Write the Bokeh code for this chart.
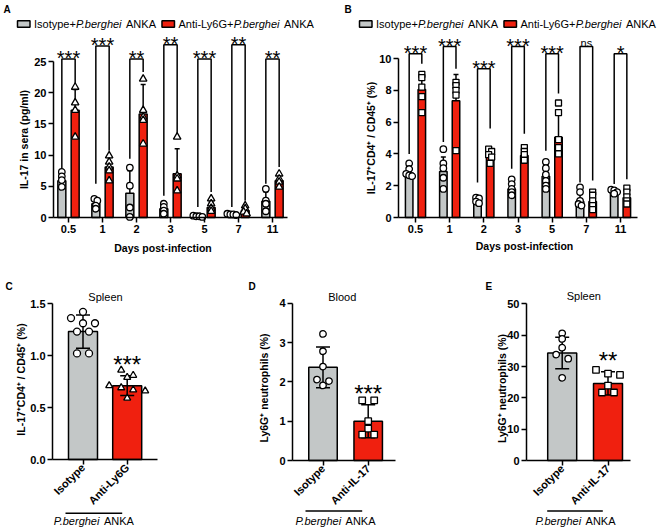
import math
from bokeh.plotting import figure
from bokeh.layouts import column, row
from bokeh.models import Label, FixedTicker, Range1d, PrintfTickFormatter
from bokeh.embed import file_html
from bokeh.resources import INLINE

FONT = "Liberation Sans"
GREY = "#C3C7C7"
RED = "#F0200F"

# ---------------- data ----------------
days = ["0.5", "1", "2", "3", "5", "7", "11"]

# Panel A: IL-17 in sera (pg/ml)
a_iso_mean = [5.9, 2.2, 3.9, 1.4, 0.2, 0.5, 2.6]
a_iso_sd = [1.0, 0.8, 3.6, 0.7, 0.1, 0.1, 1.5]
a_anti_mean = [17.2, 8.1, 16.6, 7.0, 1.6, 1.1, 5.9]
a_anti_sd = [3.3, 1.5, 4.7, 4.0, 0.9, 0.5, 0.9]
a_iso_pts = [[7.3, 6.6, 6.0, 4.9], [3.0, 2.7, 1.9, 1.4], [8.0, 5.1, 1.6, 0.1],
             [2.2, 1.7, 1.1, 0.6], [0.3, 0.2, 0.2, 0.1], [0.6, 0.5, 0.5, 0.4],
             [4.6, 2.7, 2.2, 1.0]]
a_anti_pts = [[20.9, 18.4, 17.2, 12.9], [9.9, 8.9, 8.1, 7.5, 5.9],
              [22.2, 17.2, 16.1, 15.6, 11.8], [12.9, 6.7, 6.2, 4.3],
              [3.0, 2.2, 1.5, 1.0], [1.9, 1.4, 0.9, 0.6], [7.0, 6.2, 5.7, 4.9]]
a_sig = ["***", "***", "**", "**", "***", "**", "**"]
a_sig_top = [25.4, 27.5, 25.4, 27.7, 25.4, 27.7, 25.4]
a_sig_left = [7.9, 5.4, 9.4, 3.5, 1.7, 1.7, 5.4]
a_sig_right = [21.4, 10.7, 23.3, 13.4, 4.1, 2.7, 8.1]
a_yticks = [0, 5, 10, 15, 20, 25]

# Panel B: IL-17+CD4+ / CD45+ (%)
b_iso_mean = [2.8, 2.9, 1.1, 1.8, 2.6, 1.0, 1.55]
b_iso_sd = [0.35, 0.9, 0.15, 0.45, 0.7, 0.5, 0.15]
b_anti_mean = [8.05, 7.35, 3.85, 3.9, 5.05, 1.0, 1.25]
b_anti_sd = [0.9, 1.65, 0.35, 0.3, 1.4, 0.45, 0.4]
b_iso_pts = [[3.4, 3.05, 2.75, 2.65, 2.6], [4.3, 3.4, 3.1, 2.5, 1.8],
             [1.25, 1.2, 1.0, 0.9], [2.4, 2.1, 1.8, 1.6, 1.4],
             [3.5, 3.1, 2.7, 2.3, 2.0, 1.8], [1.9, 1.6, 1.05, 0.85, 0.75],
             [1.75, 1.7, 1.6, 1.5]]
b_anti_pts = [[9.0, 8.8, 8.2, 7.6, 6.6], [8.5, 8.3, 8.0, 7.7, 4.2],
              [4.3, 4.15, 3.95, 3.8, 3.4], [4.4, 4.15, 3.95, 3.6],
              [7.2, 6.6, 4.9, 4.4, 4.0], [1.6, 1.4, 1.05, 0.75, 0.5],
              [1.85, 1.6, 1.3, 1.05, 0.85]]
b_sig = ["***", "***", "***", "***", "***", "ns", "*"]
b_sig_top = [10.3, 10.75, 9.35, 10.75, 10.3, 10.75, 10.3]
b_sig_left = [4.0, 4.75, 2.2, 3.06, 4.2, 2.2, 2.1]
b_sig_right = [9.67, 9.35, 5.6, 5.26, 7.8, 2.33, 2.4]
b_yticks = [0, 2, 4, 6, 8, 10]

# Panel C: Spleen IL-17+CD4+/CD45+ (%)
c_groups = ["Isotype", "Anti-Ly6G"]
c_mean = [1.23, 0.71]
c_sd = [0.16, 0.095]
c_iso_pts = [1.42, 1.36, 1.31, 1.31, 1.23, 1.23, 1.02, 1.02]
c_anti_pts = [0.86, 0.81, 0.79, 0.71, 0.69, 0.67, 0.66, 0.59]
c_sig = "***"
c_yticks = [0, 0.5, 1.0, 1.5]

# Panel D: Blood Ly6G+ neutrophils (%)
d_groups = ["Isotype", "Anti-IL-17"]
d_mean = [2.37, 1.0]
d_sd = [0.52, 0.42]
d_iso_pts = [3.22, 2.78, 2.39, 2.06, 2.02, 1.91]
d_anti_pts = [1.53, 1.53, 1.0, 0.81, 0.66, 0.66]
d_sig = "***"
d_yticks = [0, 1, 2, 3, 4]

# Panel E: Spleen Ly6G+ neutrophils (%)
e_groups = ["Isotype", "Anti-IL-17"]
e_mean = [34.3, 24.6]
e_sd = [5.0, 3.7]
e_iso_pts = [40.6, 38.8, 36.0, 33.8, 32.5, 26.4]
e_anti_pts = [28.9, 27.7, 27.3, 23.9, 21.7, 21.7]
e_sig = "**"
e_yticks = [0, 10, 20, 30, 40, 50]

# ---------------- helpers ----------------
W = {' ': 278, '+': 584, '-': 333, '.': 278, 'A': 667, 'K': 667, 'N': 722,
     'P': 667, 'L': 556, 'G': 778, 'I': 278, 'y': 500, 'a': 556, 'b': 556,
     'e': 556, 'g': 556, 'h': 556, 'i': 222, 'n': 556, 'o': 556, 'p': 556,
     'r': 333, 's': 500, 't': 278}


def tw(s, size):
    return sum(W.get(c, 556) for c in s) * size / 1000.0


class Map:
    """page-pixel -> data converter for one panel (axes at fl..fr, y=0 at fb)"""
    def __init__(self, fl, fr, xl, xr, fb, ppy):
        self.fl, self.fr, self.xl, self.xr, self.fb, self.ppy = fl, fr, xl, xr, fb, ppy

    def x(self, px):
        return self.xl + (px - self.fl) * (self.xr - self.xl) / (self.fr - self.fl)

    def y(self, py):
        return (self.fb - py) / self.ppy

    def dx(self, d):
        return d * (self.xr - self.xl) / (self.fr - self.fl)

    def dy(self, d):
        return d / self.ppy


def make_panel(x0, y0, w, h, m):
    p = figure(width=w, height=h,
               x_range=Range1d(m.x(x0), m.x(x0 + w)),
               y_range=Range1d(m.y(y0 + h), m.y(y0)),
               output_backend="svg", toolbar_location=None, min_border=0)
    p.outline_line_color = None
    p.grid.visible = False
    p.background_fill_color = "white"
    p.border_fill_color = "white"
    return p


def style_axes(p, m, yticks, ybounds, xlabels, orient=None, fmt=None):
    for ax in (p.xaxis[0], p.yaxis[0]):
        ax.axis_line_width = 1.5
        ax.axis_line_color = "black"
        ax.major_tick_line_width = 1.5
        ax.major_tick_line_color = "black"
        ax.major_tick_out = 5
        ax.major_tick_in = 0
        ax.minor_tick_line_color = None
        ax.major_label_text_font = FONT
        ax.major_label_text_font_style = "bold"
        ax.major_label_text_font_size = "11px"
        ax.major_label_text_color = "black"
        ax.major_label_standoff = 2
    p.yaxis.fixed_location = m.x(m.fl)
    p.xaxis.fixed_location = 0
    p.yaxis.ticker = FixedTicker(ticks=yticks)
    p.yaxis.bounds = ybounds
    p.xaxis.bounds = (m.x(m.fl), m.x(m.fr))
    if fmt:
        p.yaxis.formatter = PrintfTickFormatter(format=fmt)
    p.xaxis.ticker = FixedTicker(ticks=list(range(len(xlabels))))
    p.xaxis.major_label_overrides = {i: s for i, s in enumerate(xlabels)}
    if orient is not None:
        p.xaxis.major_label_orientation = orient
        p.xaxis.major_label_standoff = 1
        p.xaxis.major_label_text_font_size = "11px"


def label(p, m, x_px, y_px, text, size="11px", style="normal", align="left",
          baseline="middle", angle=0.0):
    p.add_layout(Label(x=m.x(x_px), y=m.y(y_px), text=text, text_font=FONT,
                       text_font_size=size, text_font_style=style,
                       text_align=align, text_baseline=baseline, angle=angle,
                       text_color="black"))


def rich(p, m, x_px, y_px, parts, size=11, center=False):
    total = sum(tw(t, size) for t, _ in parts)
    x = x_px - total / 2 if center else x_px
    for t, st in parts:
        s = t.strip()
        if s:
            lead = len(t) - len(t.lstrip(' '))
            label(p, m, x + tw(' ' * lead, size), y_px, s, f"{size}px", st)
        x += tw(t, size)
    return x


def swarm(values, center, m, dmin_px, step_px):
    order = sorted(range(len(values)), key=lambda i: -values[i])
    xs = [center] * len(values)
    clusters = []
    for i in order:
        if clusters and abs(values[clusters[-1][0]] - values[i]) * m.ppy < dmin_px:
            clusters[-1].append(i)
        else:
            clusters.append([i])
    for cl in clusters:
        n = len(cl)
        for k, i in enumerate(cl):
            xs[i] = center + m.dx((k - (n - 1) / 2) * step_px)
    return xs


def legend(p, m, x_px, y_px):
    bw, bh = 12.5, 6.5
    x = x_px
    for color, parts in ((GREY, [("Isotype+", "normal"), ("P.berghei", "italic"), (" ANKA", "normal")]),
                         (RED, [("Anti-Ly6G+", "normal"), ("P.berghei", "italic"), (" ANKA", "normal")])):
        p.quad(left=[m.x(x)], right=[m.x(x + bw)], top=[m.y(y_px - bh / 2)],
               bottom=[m.y(y_px + bh / 2)], fill_color=color, line_color="black",
               line_width=1.5)
        x = rich(p, m, x + bw + 4, y_px, parts, 11) + 6


def grouped_panel(p, m, means_i, sds_i, means_a, sds_a, pts_i, pts_a,
                  off, bw, cap_px, tops, lefts, rights, sigs, msize):
    n = len(means_i)
    xi = [k - off for k in range(n)]
    xa = [k + off for k in range(n)]
    for xs, mean, col in ((xi, means_i, GREY), (xa, means_a, RED)):
        p.vbar(x=xs, top=mean, bottom=0, width=bw, fill_color=col,
               line_color="black", line_width=1.5)
    cap = m.dx(cap_px)
    for xs, mean, sd in ((xi, means_i, sds_i), (xa, means_a, sds_a)):
        up = [a + b for a, b in zip(mean, sd)]
        p.segment(x0=xs, y0=mean, x1=xs, y1=up, line_color="black", line_width=1.5)
        p.segment(x0=[v - cap for v in xs], y0=up, x1=[v + cap for v in xs], y1=up,
                  line_color="black", line_width=1.5)
    for xs, pts, marker, sz in ((xi, pts_i, "circle", msize[0]), (xa, pts_a, msize[2], msize[1])):
        px, py = [], []
        for c, vals in zip(xs, pts):
            px += swarm(vals, c, m, 3, 3)
            py += vals
        p.scatter(x=px, y=py, marker=marker, size=sz, fill_color="white",
                  line_color="black", line_width=1.3)
    p.multi_line(xs=[[a, a, b, b] for a, b in zip(xi, xa)],
                 ys=[[l, t, t, r] for l, t, r in zip(lefts, tops, rights)],
                 line_color="black", line_width=1.5)
    for k in range(n):
        if sigs[k] == "ns":
            p.add_layout(Label(x=k, y=tops[k] + m.dy(3.5), text="ns", text_font=FONT,
                               text_font_size="11px", text_align="center",
                               text_baseline="alphabetic", text_color="black"))
        else:
            p.add_layout(Label(x=k, y=tops[k] + m.dy(1.0), text=sigs[k], text_font=FONT,
                               text_font_size="20px", text_align="center",
                               text_baseline="alphabetic", text_color="black"))


def simple_panel(p, m, means, sds, pts_i, pts_a, marker_a, bw, sig, msz):
    xs = [0, 1]
    p.vbar(x=xs, top=means, bottom=0, width=bw, fill_color=[GREY, RED],
           line_color="black", line_width=1.5)
    lo = [a - b for a, b in zip(means, sds)]
    hi = [a + b for a, b in zip(means, sds)]
    cap = m.dx(7)
    p.segment(x0=xs, y0=lo, x1=xs, y1=hi, line_color="black", line_width=1.5)
    for yy in (lo, hi):
        p.segment(x0=[v - cap for v in xs], y0=yy, x1=[v + cap for v in xs], y1=yy,
                  line_color="black", line_width=1.5)
    p.scatter(x=swarm(pts_i, 0, m, 5.5, 12), y=pts_i, marker="circle", size=msz,
              fill_color="white", line_color="black", line_width=1.3)
    p.scatter(x=swarm(pts_a, 1, m, 5.5, 12), y=pts_a, marker=marker_a, size=msz,
              fill_color="white", line_color="black", line_width=1.3)
    p.add_layout(Label(x=1, y=hi[1] + m.dy(11), text=sig, text_font=FONT,
                       text_font_size="24px", text_align="center",
                       text_baseline="alphabetic", text_color="black"))


def caption(p, m, lx0, lx1, ly, cx, cy):
    p.segment(x0=[m.x(lx0)], y0=[m.y(ly)], x1=[m.x(lx1)], y1=[m.y(ly)],
              line_color="black", line_width=1.5)
    rich(p, m, cx, cy, [("P.berghei", "italic"), (" ANKA", "normal")], 11, center=True)


# ---------------- Panel A ----------------
mA = Map(53, 287, (53 - 68) / 34.0, (287 - 68) / 34.0, 217, 6.24)
pA = make_panel(0, 0, 330, 268, mA)
style_axes(pA, mA, a_yticks, (0, 25), days)
grouped_panel(pA, mA, a_iso_mean, a_iso_sd, a_anti_mean, a_anti_sd, a_iso_pts, a_anti_pts,
              0.196, 0.235, 2.5, a_sig_top, a_sig_left, a_sig_right, a_sig,
              (6.5, 7.5, "triangle"))
label(pA, mA, 3, 8.5, "A", "10px", "bold")
legend(pA, mA, 17, 23.5)
label(pA, mA, 23, 139, "IL-17 in sera (pg/ml)", "10.5px", "bold", "center", "middle", math.pi / 2)
label(pA, mA, 162.5, 247, "Days post-infection", "10.5px", "bold", "center", "middle")

# ---------------- Panel B ----------------
mB = Map(398, 637, (398 - 415) / 34.17, (637 - 415) / 34.17, 217, 15.9)
pB = make_panel(330, 0, 330, 268, mB)
style_axes(pB, mB, b_yticks, (0, 10), days)
grouped_panel(pB, mB, b_iso_mean, b_iso_sd, b_anti_mean, b_anti_sd, b_iso_pts, b_anti_pts,
              0.185, 0.22, 2.5, b_sig_top, b_sig_left, b_sig_right, b_sig,
              (6.5, 6.0, "square"))
label(pB, mB, 344, 8.5, "B", "10px", "bold")
legend(pB, mB, 359, 23.5)
label(pB, mB, 370, 137.5, "IL-17\u207aCD4\u207a / CD45\u207a (%)", "10.5px", "bold", "center", "middle", math.pi / 2)
label(pB, mB, 524, 245, "Days post-infection", "10.5px", "bold", "center", "middle")

# ---------------- Panel C ----------------
mC = Map(52, 157, (52 - 82.5) / 44.2, (157 - 82.5) / 44.2, 459, 104.0)
pC = make_panel(0, 268, 220, 260, mC)
style_axes(pC, mC, c_yticks, (0, 1.5), c_groups, orient=math.pi / 4, fmt="%.1f")
simple_panel(pC, mC, c_mean, c_sd, c_iso_pts, c_anti_pts, "triangle", 0.656, c_sig, 7)
label(pC, mC, 5, 285.5, "C", "10px", "bold")
label(pC, mC, 105, 296.5, "Spleen", "11px", "normal", "center")
label(pC, mC, 20, 379, "IL-17\u207aCD4\u207a / CD45\u207a (%)", "10.5px", "bold", "center", "middle", math.pi / 2)
caption(pC, mC, 65, 121.7, 512.7, 93.3, 520.5)

# ---------------- Panel D ----------------
mD = Map(292, 395, (292 - 322.5) / 45.2, (395 - 322.5) / 45.2, 460, 39.3)
pD = make_panel(220, 268, 218, 260, mD)
style_axes(pD, mD, d_yticks, (0, 4), d_groups, orient=math.pi / 4)
simple_panel(pD, mD, d_mean, d_sd, d_iso_pts, d_anti_pts, "square", 0.63, d_sig, 6.5)
label(pD, mD, 248, 285.5, "D", "10px", "bold")
label(pD, mD, 341.7, 296, "Blood", "11px", "normal", "center")
label(pD, mD, 263.3, 387.5, "Ly6G\u207a neutrophils (%)", "10.5px", "bold", "center", "middle", math.pi / 2)
caption(pD, mD, 305, 361.7, 510.5, 335, 520.5)

# ---------------- Panel E ----------------
mE = Map(526, 630, (526 - 561.7) / 45.8, (630 - 561.7) / 45.8, 460, 3.133)
pE = make_panel(438, 268, 222, 260, mE)
style_axes(pE, mE, e_yticks, (0, 50), e_groups, orient=math.pi / 4)
simple_panel(pE, mE, e_mean, e_sd, e_iso_pts, e_anti_pts, "square", 0.633, e_sig, 6.5)
label(pE, mE, 485, 285.5, "E", "10px", "bold")
label(pE, mE, 583.3, 295, "Spleen", "11px", "normal", "center")
label(pE, mE, 501.7, 388, "Ly6G\u207a neutrophils (%)", "10.5px", "bold", "center", "middle", math.pi / 2)
caption(pE, mE, 546.7, 602.3, 510.5, 575, 520.5)

layout = column(row(pA, pB), row(pC, pD, pE))
open("out.html", "w").write(file_html(layout, INLINE))
